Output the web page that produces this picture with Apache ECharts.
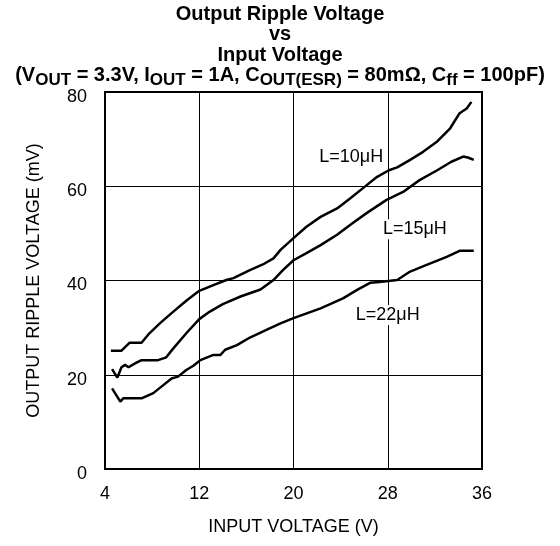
<!DOCTYPE html>
<html>
<head>
<meta charset="utf-8">
<script src="https://cdn.jsdelivr.net/npm/echarts@6/dist/echarts.min.js"></script>
<style>
  html, body { margin: 0; padding: 0; background: #fff; }
  #chart { width: 560px; height: 546px; }
</style>
</head>
<body>
<div id="chart"></div>
<script>
// input voltage (V) / output ripple (mV)
const vin10 = [4.5, 5.4, 6.1, 7.1, 7.7, 8.7, 9.8, 10.9, 12.0, 13.2, 14.3, 14.9, 16.3, 17.4, 18.3, 18.9, 20.0, 21.1, 22.3, 23.7, 24.8, 25.9, 27.1, 28.1, 28.8, 29.9, 31.0, 32.2, 33.3, 34.1, 34.7, 35.1]
const ripple10 = [25.1, 25.1, 26.8, 26.8, 28.6, 31.0, 33.4, 35.7, 37.8, 39.0, 40.1, 40.5, 42.2, 43.4, 44.7, 46.5, 49.0, 51.4, 53.5, 55.3, 57.4, 59.6, 62.0, 63.4, 64.0, 65.6, 67.3, 69.5, 72.3, 75.5, 76.5, 77.9]

const vin15 = [4.6, 5.05, 5.4, 5.7, 6.0, 6.55, 7.1, 8.5, 9.2, 9.8, 10.9, 12.0, 12.9, 14.0, 15.5, 17.2, 18.3, 19.1, 20.0, 21.1, 22.3, 23.7, 24.8, 26.2, 27.9, 29.3, 30.7, 32.2, 33.4, 34.4, 34.8, 35.3]
const ripple15 = [21.2, 19.4, 21.6, 22.1, 21.6, 22.4, 23.1, 23.1, 23.7, 25.6, 28.8, 31.8, 33.4, 35.0, 36.6, 38.1, 40.1, 42.2, 44.3, 45.8, 47.5, 49.7, 51.8, 54.3, 57.1, 58.8, 61.3, 63.4, 65.2, 66.3, 66.1, 65.6]

const vin22 = [4.6, 5.3, 5.55, 7.1, 8.1, 8.95, 9.65, 10.2, 10.9, 11.5, 12.1, 13.2, 13.8, 14.2, 15.2, 16.3, 17.7, 18.9, 20.0, 22.3, 24.2, 25.4, 26.5, 27.3, 28.8, 29.9, 31.3, 33.0, 34.1, 35.3]
const ripple22 = [17.1, 14.3, 15.0, 15.0, 16.1, 17.8, 19.2, 19.6, 21.0, 21.9, 23.1, 24.2, 24.2, 25.3, 26.3, 27.9, 29.5, 30.9, 32.0, 34.1, 36.2, 38.0, 39.5, 39.7, 40.1, 41.9, 43.3, 45.0, 46.3, 46.3]

// curve names and where they sit (V, mV)
const curveNames = ['L=10μH', 'L=15μH', 'L=22μH']
const curveLabelAt = [[24.9, 66.2], [30.3, 50.9], [28.0, 32.7]]

const font = 'Liberation Sans, Arial, sans-serif'

function pairs(xs, ys) {
  return xs.map((x, i) => [x, ys[i]])
}

function curve(idx, xs, ys) {
  return {
    type: 'line',
    name: curveNames[idx],
    data: pairs(xs, ys),
    showSymbol: false,
    symbol: 'none',
    lineStyle: { color: '#000', width: 2.5 },
    markPoint: {
      symbol: 'rect',
      symbolSize: 0,
      data: [{ coord: curveLabelAt[idx] }],
      label: {
        show: true,
        formatter: curveNames[idx],
        color: '#000',
        fontFamily: font,
        fontSize: 18,
        backgroundColor: '#fff',
        padding: [1, 2]
      }
    }
  }
}

let myChart = echarts.init(document.getElementById('chart'))

myChart.setOption({
  animation: false,
  title: {
    text: 'Output Ripple Voltage\nvs\nInput Voltage\n(V{s|OUT} = 3.3V, I{s|OUT} = 1A, C{s|OUT(ESR)} = 80mΩ, C{s|ff} = 100pF)',
    left: 'center',
    top: 4,
    padding: 0,
    textStyle: {
      fontFamily: font,
      fontSize: 20,
      fontWeight: 'bold',
      color: '#000',
      lineHeight: 20.5,
      rich: {
        // subscripts: smaller and pushed down with top padding
        s: { fontFamily: font, fontSize: 17, fontWeight: 'bold', color: '#000', lineHeight: 4, padding: [9, 0, 0, 0] }
      }
    }
  },
  grid: {
    left: 105, right: 78, top: 92, bottom: 77,
    show: true, borderColor: '#000', borderWidth: 2
  },
  xAxis: {
    type: 'value',
    min: 4, max: 36, interval: 8,
    name: 'INPUT VOLTAGE (V)',
    nameLocation: 'middle',
    nameGap: 49,
    nameTextStyle: { fontFamily: font, fontSize: 18, color: '#000' },
    axisLine: { lineStyle: { color: '#000', width: 2 } },
    axisTick: { show: false },
    axisLabel: { fontFamily: font, fontSize: 18, color: '#000', margin: 16 },
    splitLine: { lineStyle: { color: '#000', width: 1 } }
  },
  yAxis: {
    type: 'value',
    min: 0, max: 80, interval: 20,
    name: 'OUTPUT RIPPLE VOLTAGE (mV)',
    nameLocation: 'middle',
    nameGap: 62,
    nameTextStyle: { fontFamily: font, fontSize: 18, color: '#000' },
    axisLine: { show: true, lineStyle: { color: '#000', width: 2 } },
    axisTick: { show: false },
    axisLabel: { fontFamily: font, fontSize: 18, color: '#000', margin: 18, verticalAlign: 'top', padding: [-4, 0, 0, 0] },
    splitLine: { lineStyle: { color: '#000', width: 1 } }
  },
  series: [
    curve(0, vin10, ripple10),
    curve(1, vin15, ripple15),
    curve(2, vin22, ripple22)
  ]
})

window.onresize = function () {
  myChart.resize()
}
</script>
</body>
</html>
